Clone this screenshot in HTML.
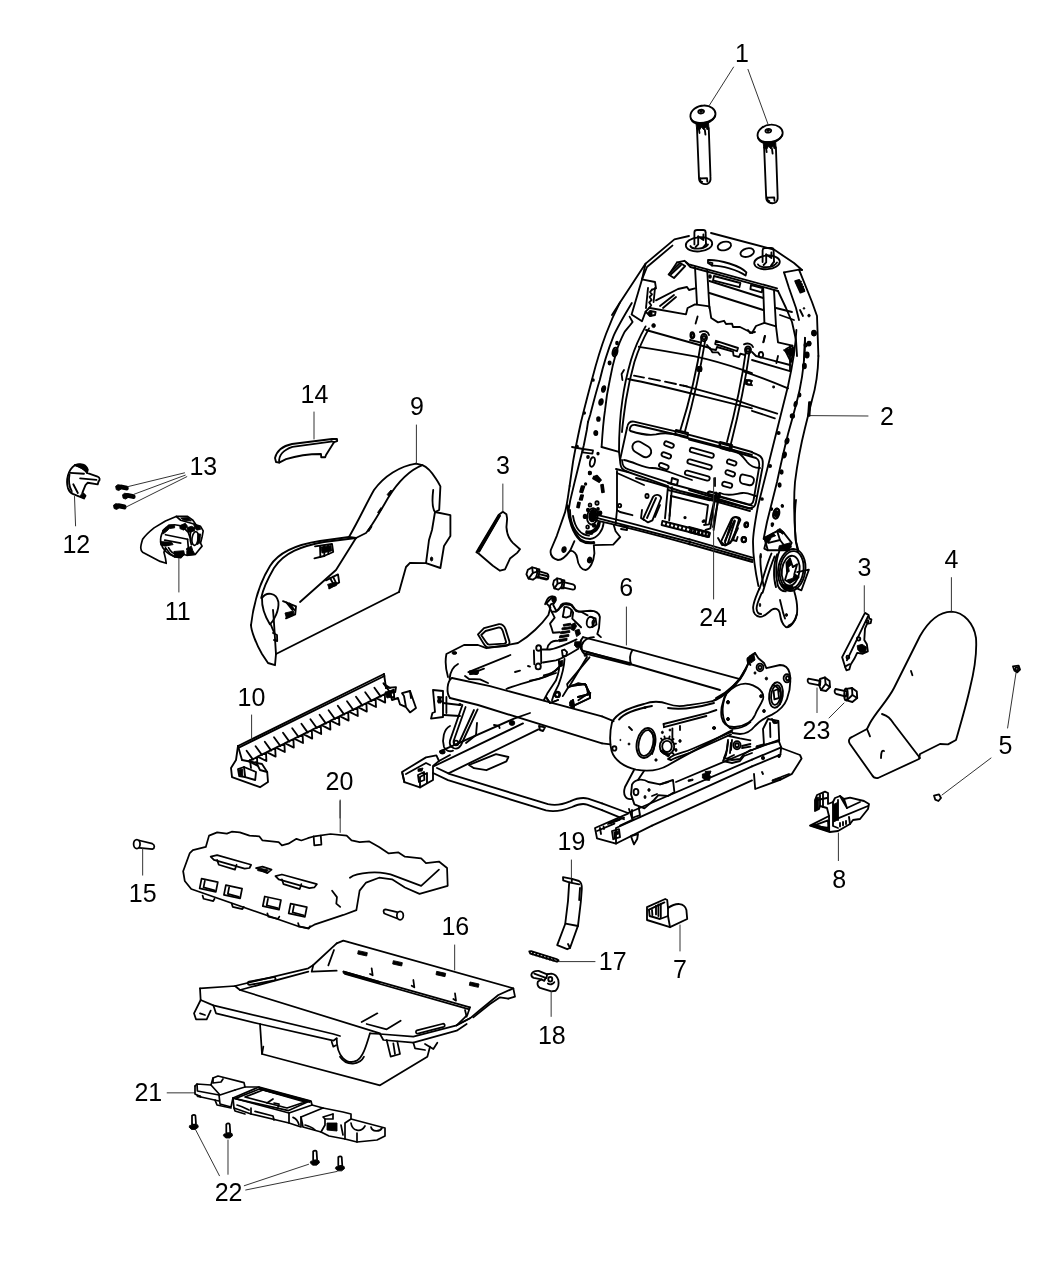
<!DOCTYPE html>
<html><head><meta charset="utf-8"><title>Seat Adjuster Diagram</title>
<style>
html,body{margin:0;padding:0;background:#fff;}
body{width:1050px;height:1275px;overflow:hidden;}
svg{display:block;will-change:transform;}
.l{fill:none;stroke:#000;stroke-linecap:round;stroke-linejoin:round;}
.t{fill:none;stroke:#333;stroke-linecap:round;}
.f{fill:#000;stroke:#000;stroke-linejoin:round;}
.w{fill:#fff;stroke:#000;stroke-linejoin:round;}
text{font-family:"Liberation Sans",Arial,sans-serif;font-size:25px;fill:#000;text-anchor:middle;}
</style></head><body>
<svg width="1050" height="1275" viewBox="0 0 1050 1275">
<rect width="1050" height="1275" fill="#fff"/>

<g transform="translate(670 20) scale(0.156904)">
<g class="l" stroke-width="11.791">
<path d="M 130 615 C 128 578 172 545 215 545 C 258 543 292 570 290 600 C 288 628 255 650 215 656 C 170 660 132 648 130 615 Z"/>
<path d="M 180 585 C 180 576 192 571 203 572 C 215 573 220 580 215 588 C 210 596 195 598 186 594 C 182 592 180 589 180 585 Z"/>
<path d="M 133 628 C 140 650 165 664 200 664 C 240 662 275 640 288 612"/>
<path d="M 172 690 L 185 1010 C 186 1040 215 1050 238 1044 C 256 1038 260 1020 258 1000 L 247 690"/>
<path d="M 192 1010 L 236 1008 L 238 1030"/>
<path d="M 192 1010 C 190 1022 195 1030 205 1032"/>
<path d="M 222 700 L 226 730"/>
<path d="M 185 700 L 188 720"/>
<path d="M 558 737 C 556 700 600 667 643 667 C 686 665 720 692 718 722 C 716 750 683 772 643 778 C 598 782 560 770 558 737 Z"/>
<path d="M 608 707 C 608 698 620 693 631 694 C 643 695 648 702 643 710 C 638 718 623 720 614 716 C 610 714 608 711 608 707 Z"/>
<path d="M 561 750 C 568 772 593 786 628 786 C 668 784 703 762 716 734"/>
<path d="M 600 812 L 613 1132 C 614 1162 643 1172 666 1166 C 684 1160 688 1142 686 1122 L 675 812"/>
<path d="M 620 1132 L 664 1130 L 666 1152"/>
<path d="M 620 1132 C 618 1144 623 1152 633 1154"/>
<path d="M 650 822 L 654 852"/>
<path d="M 613 822 L 616 842"/>
</g>
<g class="t" stroke-width="6.373">
<path d="M405 300 L250 545"/>
<path d="M497 315 L625 665"/>
</g>
<g class="f" stroke-width="5.736">
<path d="M 165 655 L 245 650 L 248 690 L 236 700 L 230 680 L 215 700 L 200 682 L 190 700 L 170 695 Z"/>
<path d="M 190 580 C 190 576 200 575 205 578 C 210 582 204 590 196 590 C 192 590 190 585 190 580 Z"/>
<path d="M 593 777 L 673 772 L 676 812 L 664 822 L 658 802 L 643 822 L 628 804 L 618 822 L 598 817 Z"/>
<path d="M 618 702 C 618 698 628 697 633 700 C 638 704 632 712 624 712 C 620 712 618 707 618 702 Z"/>
</g>
</g>
<g transform="translate(620 100) scale(0.200000)">
<g class="l" stroke-width="9.250">
<path d="M-40 1075 L0 1012 L128 818 L272 697 L345 680"/>
<path d="M110 897 L135 835 L262 728"/>
<path d="M455 665 L770 748 L870 815 L910 850"/>
<path d="M329.3 727.8 A66 34 -5 1 0 460.7 716.2 A66 34 -5 1 0 329.3 727.8 Z"/>
<path d="M352 730 C360 748 420 750 440 722"/>
<path d="M372 722 L372 662 C372 652 378 650 386 650 L416 650 C424 650 428 654 428 662 L430 720"/>
<path d="M391 682 L391 722 L378 735"/>
<path d="M417 672 L417 700 L391 682"/>
<path d="M430 720 L415 738"/>
<path d="M489.2 738.8 A34 20 -15 1 0 554.8 721.2 A34 20 -15 1 0 489.2 738.8 Z"/>
<path d="M603.2 771.8 A34 20 -15 1 0 668.8 754.2 A34 20 -15 1 0 603.2 771.8 Z"/>
<path d="M671.2 817.6 A64 34 -5 1 0 798.8 806.4 A64 34 -5 1 0 671.2 817.6 Z"/>
<path d="M690 822 C700 842 765 842 785 812"/>
<path d="M713 810 L713 752 C713 742 718 740 726 740 L756 740 C764 740 768 744 768 752 L770 808"/>
<path d="M731 772 L731 812 L718 825"/>
<path d="M757 762 L757 790 L731 772"/>
<path d="M770 808 L755 828"/>
<path d="M285 812 L322 804 L345 822 L785 942"/>
<path d="M330 812 L352 835 L790 955"/>
<path d="M285 812 L250 865"/>
<path d="M440 800 C500 798 600 828 632 862 L628 878 C590 850 505 826 462 828 L440 815 Z"/>
<path d="M448 812 L462 816 L460 828"/>
<path d="M243 872 L300 815 L326 830 L270 890 Z"/>
<path d="M255 872 L305 825"/>
<path d="M470 880 L602 915 L597 936 L465 902 Z"/>
<path d="M655 925 L712 940 L709 962 L652 946 Z"/>
<path d="M375 835 L385 1022"/>
<path d="M436 850 L447 1040"/>
<path d="M716 940 L722 1112"/>
<path d="M770 952 L780 1132"/>
<path d="M128 818 L110 897 L175 910 L180 942 L160 948"/>
<path d="M110 897 L58 1072 L110 1106 L128 1058"/>
<path d="M160 948 L150 960 L160 972 L148 985 L158 1000 L146 1012 L156 1026 L146 1040"/>
<path d="M140 940 L130 1040"/>
<path d="M175 940 L168 1010"/>
<path d="M146 1040 L128 1058 L150 1080 L175 1075 L178 1060 L150 1055"/>
<path d="M180 1002 L290 945 L335 935 L345 950 L375 942"/>
<path d="M200 1030 L270 975"/>
<path d="M215 1040 L280 985"/>
<path d="M150 1040 L330 1072 L338 1040 L375 1022 L447 1032 L456 1090 L490 1112 L520 1104 L530 1120 L560 1118 L565 1135 L600 1135 L660 1165 L680 1130 L722 1114 L780 1132 L790 1212 L862 1228"/>
<path d="M447 965 L716 1050"/>
<path d="M447 905 L716 990"/>
<path d="M130 1150 L450 1240 L462 1262 L490 1262 L500 1275"/>
<path d="M405.0 1188.0 A15 18 0 1 0 435.0 1188.0 A15 18 0 1 0 405.0 1188.0 Z"/>
<path d="M413.0 1188.0 A7 9 0 1 0 427.0 1188.0 A7 9 0 1 0 413.0 1188.0 Z"/>
<path d="M625.0 1250.0 A15 18 0 1 0 655.0 1250.0 A15 18 0 1 0 625.0 1250.0 Z"/>
<path d="M633.0 1250.0 A7 9 0 1 0 647.0 1250.0 A7 9 0 1 0 633.0 1250.0 Z"/>
<path d="M352.0 1176.0 A9 15 0 1 0 370.0 1176.0 A9 15 0 1 0 352.0 1176.0 Z"/>
<path d="M400 1160 C420 1150 440 1158 445 1175"/>
<path d="M620 1222 C640 1212 660 1220 665 1235"/>
<path d="M480 1204 L590 1240 L585 1256 L476 1220 Z"/>
<path d="M388 1082 L378 1118"/>
<path d="M724 1180 L716 1212"/>
<path d="M820 862 L895 848 L910 850"/>
<path d="M820 862 L845 940 L880 1040 L895 1100"/>
<path d="M895 848 L960 1010 L985 1080 L992 1280"/>
<path d="M925 1189 L920 1300"/>
<path d="M876 906 L896 900 L922 956 L902 963 Z"/>
<path d="M882 915 L905 908"/>
<path d="M888 928 L910 921"/>
<path d="M894 941 L916 934"/>
<path d="M900 952 L920 947"/>
<path d="M790 955 L830 1040 L860 1110 L880 1200 L885 1280"/>
<path d="M780 1040 L860 1060"/>
<path d="M800 1075 L870 1100"/>
<path d="M830 1245 L862 1228 L868 1275"/>
<path d="M937.0 1218.0 A8 10 0 1 0 953.0 1218.0 A8 10 0 1 0 937.0 1218.0 Z"/>
<path d="M922.0 1225.0 A6 8 0 1 0 934.0 1225.0 A6 8 0 1 0 922.0 1225.0 Z"/>
<path d="M900 1050 L915 1080"/>
</g>
<g class="f" stroke-width="4.500">
<path d="M159.0 1128.0 A9 10 0 1 0 177.0 1128.0 A9 10 0 1 0 159.0 1128.0 Z"/>
<path d="M939.0 1078.0 A6 7 0 1 0 951.0 1078.0 A6 7 0 1 0 939.0 1078.0 Z"/>
<path d="M959.0 1166.0 A11 14 0 1 0 981.0 1166.0 A11 14 0 1 0 959.0 1166.0 Z"/>
<path d="M916.0 1042.0 A4 4 0 1 0 924.0 1042.0 A4 4 0 1 0 916.0 1042.0 Z"/>
<path d="M840 1250 L868 1235 L866 1275 Z"/>
<path d="M880 908 L896 903 L920 955 L904 960 Z"/>
<path d="M140 1060 L160 1055 L160 1080 L145 1078 Z"/>
</g>
</g>
<g transform="translate(540 230) scale(0.200000)">
<g class="l" stroke-width="9.250">
<path d="M400 362 C370 420 345 480 330 520 C300 600 280 670 262 740 C240 820 220 900 205 960 C190 1030 175 1100 165 1160 L148 1280"/>
<path d="M459 365 C420 430 390 480 368 529 C340 600 315 680 299 750 C280 810 265 870 252 921 L240 960"/>
<path d="M448 433 L463 460 C440 490 425 505 421 513 C405 545 392 575 383 605 C370 650 358 700 349 750 C338 800 330 850 325 902 C316 960 312 1020 308 1085"/>
<path d="M528 482 C495 540 470 600 455 650 C435 720 420 790 412 850 C400 930 395 1020 395 1110"/>
<path d="M545 492 C512 550 488 610 472 660 C455 720 440 790 430 850 C420 920 412 980 410 1010"/>
<path d="M420 700 L408 720 L412 750"/>
<path d="M494 584 C600 600 700 618 774 632 C850 648 950 678 1017 701 L1060 716"/>
<path d="M470 728 L520 738 M545 742 L600 753 M625 758 L680 770 M700 775 L735 782"/>
<path d="M440 745 C600 775 800 830 1060 892"/>
<path d="M717 778 C800 800 900 828 968 847 L1060 878"/>
<path d="M808 545 C785 700 740 880 702 1000"/>
<path d="M826 552 C802 700 760 880 724 1010"/>
<path d="M1030 602 C1010 750 970 930 935 1060"/>
<path d="M1048 606 C1028 750 990 930 955 1068"/>
<path d="M790 685 L805 685 L805 705 L790 705 Z"/>
<path d="M1030 750 L1060 755 M1030 770 L1060 776 M1030 750 L1030 770"/>
<path d="M395 1110 L400 1150 C402 1190 410 1200 440 1210 L640 1280"/>
<path d="M410 1150 C412 1180 420 1190 445 1198 L660 1268"/>
<path d="M435 990 C438 965 450 955 470 958 L700 1012 L900 1065 L1060 1110"/>
<path d="M448 1000 C450 980 460 972 478 975 L690 1025"/>
<path d="M435 990 L400 1150"/>
<path d="M452 1005 C500 1020 540 1030 580 1022 C620 1012 660 1015 700 1030 L1060 1125"/>
<path d="M420 1150 C470 1160 520 1190 560 1190 C590 1190 620 1200 660 1215 L760 1250"/>
<path d="M680 1000 L740 1015 L738 1035 L676 1020 Z"/>
<path d="M900 1060 L960 1075 L958 1095 L896 1080 Z"/>
<path d="M475.5 1109.0 L513.5 1132.0 A28 28 0 0 0 542.5 1084.0 L504.5 1061.0 A28 28 0 0 0 475.5 1109.0 Z"/>
<path d="M628.1 1078.3 L654.1 1088.3 A11 11 0 0 0 661.9 1067.7 L635.9 1057.7 A11 11 0 0 0 628.1 1078.3 Z"/>
<path d="M614.2 1132.3 L641.2 1142.3 A11 11 0 0 0 648.8 1121.7 L621.8 1111.7 A11 11 0 0 0 614.2 1132.3 Z"/>
<path d="M602.1 1186.3 L628.1 1196.3 A11 11 0 0 0 635.9 1175.7 L609.9 1165.7 A11 11 0 0 0 602.1 1186.3 Z"/>
<path d="M757.0 1110.6 L855.0 1138.6 A11 11 0 0 0 861.0 1117.4 L763.0 1089.4 A11 11 0 0 0 757.0 1110.6 Z"/>
<path d="M745.0 1168.6 L845.0 1196.6 A11 11 0 0 0 851.0 1175.4 L751.0 1147.4 A11 11 0 0 0 745.0 1168.6 Z"/>
<path d="M732.1 1224.6 L835.1 1252.6 A11 11 0 0 0 840.9 1231.4 L737.9 1203.4 A11 11 0 0 0 732.1 1224.6 Z"/>
<path d="M941.5 1168.4 L968.5 1177.4 A11 11 0 0 0 975.5 1156.6 L948.5 1147.6 A11 11 0 0 0 941.5 1168.4 Z"/>
<path d="M934.4 1222.4 L960.4 1231.4 A11 11 0 0 0 967.6 1210.6 L941.6 1201.6 A11 11 0 0 0 934.4 1222.4 Z"/>
<path d="M875 1240 L875 1280"/>
<path d="M215 1095 L265 1102 L262 1118 L212 1112 Z"/>
<path d="M308 1085 L390 1108"/>
<path d="M160 1085 L215 1095"/>
<path d="M250.4 1156.9 A12 24 15 1 0 273.6 1163.1 A12 24 15 1 0 250.4 1156.9 Z"/>
<path d="M380 1195 L440 1210"/>
<path d="M385 1215 L520 1275"/>
<path d="M363.4 606.9 A12 22 15 1 0 386.6 613.1 A12 22 15 1 0 363.4 606.9 Z"/>
</g>
<g class="f" stroke-width="8.500">
<path d="M380.0 565.0 A5 7 0 1 0 390.0 565.0 A5 7 0 1 0 380.0 565.0 Z"/>
<path d="M369.2 608.4 A6 13 15 1 0 380.8 611.6 A6 13 15 1 0 369.2 608.4 Z"/>
<path d="M342.0 665.0 A6 8 0 1 0 354.0 665.0 A6 8 0 1 0 342.0 665.0 Z"/>
<path d="M260.0 750.0 A5 5 0 1 0 270.0 750.0 A5 5 0 1 0 260.0 750.0 Z"/>
<path d="M310.3 792.9 A8 14 15 1 0 325.7 797.1 A8 14 15 1 0 310.3 792.9 Z"/>
<path d="M296.3 857.7 A9 15 15 1 0 313.7 862.3 A9 15 15 1 0 296.3 857.7 Z"/>
<path d="M285.0 945.0 A7 10 0 1 0 299.0 945.0 A7 10 0 1 0 285.0 945.0 Z"/>
<path d="M273.0 1015.0 A7 10 0 1 0 287.0 1015.0 A7 10 0 1 0 273.0 1015.0 Z"/>
<path d="M218.0 915.0 A4 4 0 1 0 226.0 915.0 A4 4 0 1 0 218.0 915.0 Z"/>
<path d="M181.0 1082.0 A4 4 0 1 0 189.0 1082.0 A4 4 0 1 0 181.0 1082.0 Z"/>
<path d="M235.0 1135.0 A5 6 0 1 0 245.0 1135.0 A5 6 0 1 0 235.0 1135.0 Z"/>
<path d="M286.0 1118.0 A4 5 0 1 0 294.0 1118.0 A4 5 0 1 0 286.0 1118.0 Z"/>
<path d="M243.0 1215.0 A5 7 0 1 0 253.0 1215.0 A5 7 0 1 0 243.0 1215.0 Z"/>
<path d="M270 1232 L300 1250 L295 1260 L265 1242 Z"/>
<path d="M224.0 1270.0 A4 4 0 1 0 232.0 1270.0 A4 4 0 1 0 224.0 1270.0 Z"/>
<path d="M845.0 232.0 A5 7 0 1 0 855.0 232.0 A5 7 0 1 0 845.0 232.0 Z"/>
</g>
</g>
<g transform="translate(690 330) scale(0.200000)">
<g class="l" stroke-width="9.250">
<path d="M642 130 C640 220 625 300 610 350 C595 410 585 450 575 490 C555 570 535 680 525 760 C518 840 520 940 528 1050 L540 1110"/>
<path d="M575 40 C575 120 565 220 548 300 C530 380 510 450 490 520 C470 600 450 690 435 760 C418 830 400 900 385 960 L368 1045"/>
<path d="M532 0 C528 80 510 190 490 280 C470 360 455 420 440 480 C420 560 400 640 385 700 C365 780 350 840 340 880 C325 960 315 1020 315 1060 C315 1130 325 1200 342 1280"/>
<path d="M352 1130 C350 1180 358 1230 368 1280"/>
<path d="M310 150 L500 206"/>
<path d="M270 208 C350 235 420 262 490 292"/>
<path d="M310 378 L436 418"/>
<path d="M310 404 L424 442"/>
<path d="M85 75 L100 95 L130 100 L135 85 L215 108 L218 128 L245 135 L252 118 L275 125"/>
<path d="M0 50 L50 62"/>
<path d="M310 110 L330 130 L500 175"/>
<path d="M344.0 124.0 A11 14 0 1 0 366.0 124.0 A11 14 0 1 0 344.0 124.0 Z"/>
<path d="M284.0 262.0 A11 11 0 1 0 306.0 262.0 A11 11 0 1 0 284.0 262.0 Z"/>
<path d="M8.0 28.0 A7 10 0 1 0 22.0 28.0 A7 10 0 1 0 8.0 28.0 Z"/>
<path d="M42.0 195.0 A8 10 0 1 0 58.0 195.0 A8 10 0 1 0 42.0 195.0 Z"/>
<path d="M375 30 L368 60"/>
<path d="M440 130 L432 165"/>
<path d="M480 110 L520 95 L505 160 Z"/>
<path d="M500 80 L500 200"/>
<path d="M290 0 L300 15 L325 10"/>
<path d="M310 612 L335 622 C362 632 368 650 362 690 L330 860 C325 888 308 895 285 888 L-5 800"/>
<path d="M-5 548 L150 588 L330 640 C345 648 350 660 345 690 L318 850 C315 870 302 876 285 870 L150 832"/>
<path d="M150 566 L152 590 L200 604 L200 582"/>
<path d="M169.0 780.6 L197.0 788.6 A11 11 0 0 0 203.0 767.4 L175.0 759.4 A11 11 0 0 0 169.0 780.6 Z"/>
<path d="M262 722 L305 732 C320 737 322 748 318 760 C314 774 304 778 292 775 L262 768 C250 764 248 752 250 740 C252 728 256 722 262 722 Z"/>
<path d="M95.2 827.6 L122.2 835.6 A10 10 0 0 0 127.8 816.4 L100.8 808.4 A10 10 0 0 0 95.2 827.6 Z"/>
<path d="M150 815 C190 835 230 818 262 815 C290 812 310 825 330 830"/>
<path d="M215 600 C250 610 270 640 285 660 C305 685 330 690 350 690"/>
<path d="M-5 820 L300 905"/>
<path d="M125 835 L95 972 L70 975"/>
<path d="M148 815 L115 985"/>
<path d="M175 1062 L212 945 C218 932 240 935 245 948 L215 1050 L180 1075 Z"/>
<path d="M190 1065 L225 955"/>
<path d="M215 1050 L232 1055 L238 1035"/>
<path d="M140 1040 L160 1075 L180 1075"/>
<path d="M-5 985 L95 1012 L90 1035 L-5 1010"/>
<path d="M10 990 L8 1010 M28 995 L26 1016 M46 1000 L44 1022 M64 1005 L62 1026 M80 1010 L78 1030"/>
<path d="M-5 1046 L312 1138"/>
<path d="M-5 1070 L312 1160"/>
<path d="M-5 1058 L312 1150"/>
<path d="M275.0 972.0 A8 11 0 1 0 291.0 972.0 A8 11 0 1 0 275.0 972.0 Z"/>
<path d="M257.0 1048.0 A11 13 0 1 0 279.0 1048.0 A11 13 0 1 0 257.0 1048.0 Z"/>
<path d="M417.4 914.6 A13 25 15 1 0 442.6 921.4 A13 25 15 1 0 417.4 914.6 Z"/>
</g>
<g class="t" stroke-width="5.000">
<path d="M600 428 L890 430"/>
</g>
<g class="f" stroke-width="8.500">
<path d="M591.0 68.0 A6 8 0 1 0 603.0 68.0 A6 8 0 1 0 591.0 68.0 Z"/>
<path d="M576.0 125.0 A9 13 0 1 0 594.0 125.0 A9 13 0 1 0 576.0 125.0 Z"/>
<path d="M564.0 180.0 A8 12 0 1 0 580.0 180.0 A8 12 0 1 0 564.0 180.0 Z"/>
<path d="M543.0 325.0 A5 8 0 1 0 553.0 325.0 A5 8 0 1 0 543.0 325.0 Z"/>
<path d="M522.2 368.4 A6 12 15 1 0 533.8 371.6 A6 12 15 1 0 522.2 368.4 Z"/>
<path d="M503.0 430.0 A9 9 0 1 0 521.0 430.0 A9 9 0 1 0 503.0 430.0 Z"/>
<path d="M437.0 515.0 A6 6 0 1 0 449.0 515.0 A6 6 0 1 0 437.0 515.0 Z"/>
<path d="M477.3 552.9 A8 13 15 1 0 492.7 557.1 A8 13 15 1 0 477.3 552.9 Z"/>
<path d="M464.3 622.9 A8 13 15 1 0 479.7 627.1 A8 13 15 1 0 464.3 622.9 Z"/>
<path d="M394.0 680.0 A6 6 0 1 0 406.0 680.0 A6 6 0 1 0 394.0 680.0 Z"/>
<path d="M452.0 710.0 A6 9 0 1 0 464.0 710.0 A6 9 0 1 0 452.0 710.0 Z"/>
<path d="M442.0 775.0 A6 9 0 1 0 454.0 775.0 A6 9 0 1 0 442.0 775.0 Z"/>
<path d="M355.0 845.0 A5 5 0 1 0 365.0 845.0 A5 5 0 1 0 355.0 845.0 Z"/>
<path d="M458.0 880.0 A4 5 0 1 0 466.0 880.0 A4 5 0 1 0 458.0 880.0 Z"/>
<path d="M404.0 895.0 A4 4 0 1 0 412.0 895.0 A4 4 0 1 0 404.0 895.0 Z"/>
<path d="M424.2 916.4 A6 13 15 1 0 435.8 919.6 A6 13 15 1 0 424.2 916.4 Z"/>
<path d="M407.0 970.0 A5 5 0 1 0 417.0 970.0 A5 5 0 1 0 407.0 970.0 Z"/>
<path d="M415.0 285.0 A3 3 0 1 0 421.0 285.0 A3 3 0 1 0 415.0 285.0 Z"/>
<path d="M610.0 15.0 A10 12 0 1 0 630.0 15.0 A10 12 0 1 0 610.0 15.0 Z"/>
<path d="M62.0 958.0 A3 3 0 1 0 68.0 958.0 A3 3 0 1 0 62.0 958.0 Z"/>
<path d="M595 360 L602 360 L598 430 L590 430 Z"/>
<path d="M470 100 L520 95 L505 130 Z"/>
</g>
</g>
<g transform="translate(540 430) scale(0.200000)">
<g class="l" stroke-width="9.250">
<path d="M148 280 C140 330 136 370 125 412 L84 529 L54 600 C50 620 55 640 90 650 C110 650 135 625 151 603 C170 605 182 615 186 640 C190 680 210 700 228 700 C250 695 268 660 272 617 L269 576 L366 573 L401 535 L378 506 L369 476"/>
<path d="M151 603 L172 556"/>
<path d="M240 -40 L234 0 L219 76 L201 147 L172 265 L151 353 L143 400"/>
<path d="M137 376 C140 450 165 520 201 553 C225 568 250 568 272 565"/>
<path d="M140 380 C144 450 168 516 204 548 C226 562 250 563 270 560"/>
<path d="M150 400 C150 480 190 545 250 545 C290 540 315 500 318 465"/>
<path d="M165 430 C175 490 205 525 245 528"/>
<path d="M385 205 L385 400 L400 410 L462 426"/>
<path d="M385 400 L378 470"/>
<path d="M405 480 L435 485 L435 500 L405 495"/>
<path d="M390.0 378.0 A8 9 0 1 0 406.0 378.0 A8 9 0 1 0 390.0 378.0 Z"/>
<path d="M236.4 427.5 A26 40 10 1 0 287.6 436.5 A26 40 10 1 0 236.4 427.5 Z"/>
<path d="M248.2 429.6 A14 22 10 1 0 275.8 434.4 A14 22 10 1 0 248.2 429.6 Z"/>
<path d="M272 422 C420 455 600 505 750 548"/>
<path d="M262 448 C420 482 600 530 750 572"/>
<path d="M268 436 L750 560"/>
<path d="M515 445 L565 335 C575 318 602 322 606 340 L562 452 L540 462 Z"/>
<path d="M535 440 L580 340"/>
<path d="M575 435 L600 375"/>
<path d="M905 558 L958 445 C965 430 998 432 1002 450 L952 565 L925 578 Z"/>
<path d="M925 555 L972 452"/>
<path d="M965 545 L990 490"/>
<path d="M640 282 L625 442"/>
<path d="M660 286 L646 452"/>
<path d="M640 300 L850 352"/>
<path d="M655 330 L840 376 L828 470"/>
<path d="M655 330 L648 430"/>
<path d="M880 312 L852 492 L828 500"/>
<path d="M895 318 L868 500"/>
<path d="M612 455 L850 515 L845 535 L608 475 Z"/>
<path d="M632 462 L628 480 M652 467 L648 485 M672 472 L668 490 M692 477 L688 495 M712 482 L708 500 M732 487 L728 505 M752 492 L748 510 M772 497 L768 515 M792 502 L788 520 M812 507 L808 525 M830 512 L826 530"/>
<path d="M527.0 330.0 A8 10 0 1 0 543.0 330.0 A8 10 0 1 0 527.0 330.0 Z"/>
<path d="M1021.0 475.0 A9 11 0 1 0 1039.0 475.0 A9 11 0 1 0 1021.0 475.0 Z"/>
<path d="M1009.0 548.0 A11 13 0 1 0 1031.0 548.0 A11 13 0 1 0 1009.0 548.0 Z"/>
<path d="M847.6 327.7 L887.6 337.7 A10 10 0 0 0 892.4 318.3 L852.4 308.3 A10 10 0 0 0 847.6 327.7 Z"/>
<path d="M640 265 L1060 378"/>
<path d="M480 240 C560 260 640 285 700 305 L1060 395"/>
<path d="M660 240 L690 250 L685 275 L655 268 Z"/>
<path d="M510 400 L505 440 L520 450"/>
<path d="M277.0 365.0 A8 9 0 1 0 293.0 365.0 A8 9 0 1 0 277.0 365.0 Z"/>
<path d="M243.0 375.0 A7 8 0 1 0 257.0 375.0 A7 8 0 1 0 243.0 375.0 Z"/>
<path d="M231.0 485.0 A7 8 0 1 0 245.0 485.0 A7 8 0 1 0 231.0 485.0 Z"/>
</g>
<g class="t" stroke-width="5.000">
<path d="M432 885 L432 1075"/>
<path d="M868 240 L868 845"/>
</g>
<g class="f" stroke-width="8.500">
<path d="M111.3 595.7 A9 13 15 1 0 128.7 600.3 A9 13 15 1 0 111.3 595.7 Z"/>
<path d="M239.3 647.7 A9 13 15 1 0 256.7 652.3 A9 13 15 1 0 239.3 647.7 Z"/>
<path d="M247.3 425.0 A17 28 10 1 0 280.7 431.0 A17 28 10 1 0 247.3 425.0 Z"/>
<path d="M232 505 C255 512 285 495 292 460 L300 462 C295 505 260 525 230 515 Z"/>
<path d="M208 280 L222 282 L212 312 L200 310 Z"/>
<path d="M205 325 L216 327 L210 350 L198 348 Z"/>
<path d="M190 362 L200 364 L195 388 L185 386 Z"/>
<path d="M275 232 L285 228 L305 250 L296 258 Z"/>
<path d="M305 275 L315 273 L320 310 L310 312 Z"/>
<path d="M244.0 215.0 A6 7 0 1 0 256.0 215.0 A6 7 0 1 0 244.0 215.0 Z"/>
<path d="M292.0 415.0 A8 8 0 1 0 308.0 415.0 A8 8 0 1 0 292.0 415.0 Z"/>
<path d="M218.0 432.0 A7 9 0 1 0 232.0 432.0 A7 9 0 1 0 218.0 432.0 Z"/>
<path d="M263.0 478.0 A7 7 0 1 0 277.0 478.0 A7 7 0 1 0 263.0 478.0 Z"/>
<path d="M247.0 515.0 A8 6 0 1 0 263.0 515.0 A8 6 0 1 0 247.0 515.0 Z"/>
<path d="M234.0 400.0 A6 7 0 1 0 246.0 400.0 A6 7 0 1 0 234.0 400.0 Z"/>
<path d="M285.0 395.0 A5 6 0 1 0 295.0 395.0 A5 6 0 1 0 285.0 395.0 Z"/>
<path d="M721.0 438.0 A4 4 0 1 0 729.0 438.0 A4 4 0 1 0 721.0 438.0 Z"/>
<path d="M816.0 455.0 A4 4 0 1 0 824.0 455.0 A4 4 0 1 0 816.0 455.0 Z"/>
<path d="M271.0 15.0 A7 9 0 1 0 285.0 15.0 A7 9 0 1 0 271.0 15.0 Z"/>
<path d="M181.0 82.0 A4 4 0 1 0 189.0 82.0 A4 4 0 1 0 181.0 82.0 Z"/>
</g>
</g>
<g transform="translate(730 500) scale(0.142857)">
<g class="l" stroke-width="12.950">
<path d="M462 0 C450 100 452 200 462 290 L478 350"/>
<path d="M205 620 C185 670 165 710 162 750 C160 790 180 815 210 818 C245 818 270 785 292 768 C315 755 340 760 348 790 C355 830 360 870 392 890 C425 895 455 850 468 800 C475 750 465 690 450 640"/>
<path d="M222 650 C200 700 185 730 186 760 C188 785 200 798 218 798"/>
<path d="M350 700 L372 790 L385 830"/>
<path d="M468 800 C460 840 440 870 410 880"/>
<path d="M290 375 C260 440 235 540 205 625"/>
<path d="M312 395 C280 470 255 560 228 650"/>
<path d="M337.9 476.8 A95 148 8 1 0 526.1 503.2 A95 148 8 1 0 337.9 476.8 Z"/>
<path d="M350.8 478.6 A82 132 8 1 0 513.2 501.4 A82 132 8 1 0 350.8 478.6 Z"/>
<path d="M363.6 486.4 A62 105 8 1 0 486.4 503.6 A62 105 8 1 0 363.6 486.4 Z"/>
<path d="M345 360 C320 420 315 520 335 600 C345 625 365 640 390 640"/>
<path d="M330 380 C305 440 300 540 322 610"/>
<path d="M470 505 L552 488 L500 632 L452 612"/>
<path d="M395 440 L420 410 L440 470 L470 450 L450 520 L480 540 L420 580 L385 560 L400 510 Z"/>
<path d="M240 265 L330 218 L378 232 L432 300 L405 352 L265 352 Z"/>
<path d="M330 218 L350 280 L405 352"/>
<path d="M270 300 L350 280"/>
<path d="M250 300 L240 340 L262 352"/>
<path d="M305.4 90.8 A20 36 12 1 0 344.6 99.2 A20 36 12 1 0 305.4 90.8 Z"/>
<path d="M105.0 175.0 A10 14 0 1 0 125.0 175.0 A10 14 0 1 0 105.0 175.0 Z"/>
<path d="M84.0 278.0 A14 16 0 1 0 112.0 278.0 A14 16 0 1 0 84.0 278.0 Z"/>
<path d="M945 790 L970 805 L975 830 L990 836 L985 862 L960 866 L945 900 L940 980 L958 1010 L965 1060 L930 1076 L890 1070 L870 1112 L845 1152 L835 1186 L815 1192 L805 1166 L785 1100 Z"/>
<path d="M966 815 L818 1122"/>
<path d="M805 1166 L835 1150"/>
<path d="M888.0 972.0 A12 12 0 1 0 912.0 972.0 A12 12 0 1 0 888.0 972.0 Z"/>
<path d="M815.0 1100.0 A10 11 0 1 0 835.0 1100.0 A10 11 0 1 0 815.0 1100.0 Z"/>
<path d="M954.0 850.0 A8 8 0 1 0 970.0 850.0 A8 8 0 1 0 954.0 850.0 Z"/>
</g>
<g class="t" stroke-width="7.000">
<path d="M940 600 L940 785"/>
</g>
<g class="f" stroke-width="6.300">
<path d="M358.0 40.0 A7 9 0 1 0 372.0 40.0 A7 9 0 1 0 358.0 40.0 Z"/>
<path d="M283.0 65.0 A7 8 0 1 0 297.0 65.0 A7 8 0 1 0 283.0 65.0 Z"/>
<path d="M315.2 92.9 A10 20 12 1 0 334.8 97.1 A10 20 12 1 0 315.2 92.9 Z"/>
<path d="M288.0 180.0 A7 7 0 1 0 302.0 180.0 A7 7 0 1 0 288.0 180.0 Z"/>
<path d="M387.0 805.0 A8 10 0 1 0 403.0 805.0 A8 10 0 1 0 387.0 805.0 Z"/>
<path d="M205.0 735.0 A5 12 0 1 0 215.0 735.0 A5 12 0 1 0 205.0 735.0 Z"/>
<path d="M210.0 390.0 A5 18 0 1 0 220.0 390.0 A5 18 0 1 0 210.0 390.0 Z"/>
<path d="M240 265 L300 232 L320 250 L290 262 L270 300 L250 300 Z"/>
<path d="M330 210 L350 200 L380 225 L370 240 Z"/>
<path d="M345 320 L420 300 L430 330 L400 352 L340 345 Z"/>
<path d="M395 440 L420 410 L432 450 L410 470 L415 500 L400 510 Z"/>
<path d="M450 520 L480 540 L420 580 L400 560 L440 548 Z"/>
<path d="M360 590 L440 600 L445 625 L380 630 Z"/>
<path d="M890 1020 L925 1010 L955 1030 L950 1065 L915 1070 L895 1050 Z"/>
</g>
</g>
<g transform="translate(450 430) scale(0.142857)">
<g class="l" stroke-width="12.950">
<path d="M370 572 L395 590 L400 620 L395 680 C398 730 420 770 440 790 L490 835 L470 860 L420 900 L385 975 L350 985 L300 950 L200 865 L185 855 L200 830 L340 595 Z"/>
<path d="M350 600 L205 850"/>
<path d="M545 978 L575 962 L605 968 L612 992 L605 1030 L580 1048 L550 1040 L535 1010 Z"/>
<path d="M575 962 L580 1000 L550 1040"/>
<path d="M580 1000 L612 992"/>
<path d="M608 985 L680 1005 C694 1012 692 1040 680 1042 L604 1024"/>
<path d="M612 972 L626 976 L620 1034 L606 1032"/>
</g>
<g class="t" stroke-width="7.000">
<path d="M370 378 L370 570"/>
</g>
<g class="f" stroke-width="6.300">
<path d="M340 595 L352 600 L205 852 L185 855 L200 830 Z"/>
</g>
</g>
<g transform="translate(840 540) scale(0.200000)">
<g class="l" stroke-width="9.250">
<path d="M557 358 C620 360 670 420 680 490 C685 560 670 660 650 740 C630 830 600 930 580 1000 L540 1022 L500 1020 L400 1070 L395 1095 L190 1190 C175 1192 165 1185 160 1175 L50 1020 C40 1005 45 990 60 985 L135 945 L150 915 C180 860 240 800 270 740 C310 660 360 560 400 480 C440 410 490 360 557 358 Z"/>
<path d="M210 870 C240 880 250 890 270 920 L400 1090"/>
<path d="M135 945 L150 982"/>
<path d="M355 655 L362 676"/>
<path d="M205 1090 C205 1060 210 1050 220 1055"/>
<path d="M21.0 772.0 A9 30 0 1 0 39.0 772.0 A9 30 0 1 0 21.0 772.0 Z"/>
<path d="M32 744 L60 740 L84 758 L86 790 L62 810 L34 802"/>
<path d="M60 740 L62 775 L34 802"/>
<path d="M62 775 L86 790"/>
<path d="M865 632 L893 628 L900 648 L886 662 L872 652 Z"/>
<path d="M877.0 644.0 A7 8 0 1 0 891.0 644.0 A7 8 0 1 0 877.0 644.0 Z"/>
<path d="M470 1278 L495 1272 L505 1290 L492 1305 L476 1298 Z"/>
</g>
<g class="t" stroke-width="5.000">
<path d="M557 188 L557 355"/>
<path d="M880 665 L838 940"/>
<path d="M755 1090 L510 1275"/>
</g>
</g>
<g transform="translate(390 585) scale(0.200000)">
<g class="l" stroke-width="9.250">
<path d="M310 465 L500 506 L1060 657"/>
<path d="M300 565 L440 600 L1060 792"/>
<path d="M310 465 C285 480 280 540 300 565"/>
<path d="M290 460 C278 420 275 380 282 345 L370 300 L440 300 L482 316 L560 305 L640 290 C700 255 760 195 792 150 L802 112 L782 92 L806 66 L826 72 L816 100 L832 130 L870 96 L905 100 L930 130 L960 136 L988 152"/>
<path d="M298 470 C300 440 312 410 340 395"/>
<path d="M392 436 L602 350"/>
<path d="M400 445 L470 418"/>
<path d="M582 520 C640 495 720 480 830 440"/>
<path d="M375 455 L395 470 L450 472 L490 490"/>
<path d="M440 247 L470 216 L545 196 C565 195 572 205 578 222 L597 282 C600 298 590 304 575 305 L492 312 C478 312 472 300 465 288 Z"/>
<path d="M456 250 L478 230 L545 212 C556 212 560 218 564 230 L580 282 C582 290 578 292 570 293 L496 298 C488 298 484 292 480 285 Z"/>
<path d="M825.0 548.0 A11 12 0 1 0 847.0 548.0 A11 12 0 1 0 825.0 548.0 Z"/>
<path d="M780 560 L800 590 L840 575"/>
<path d="M900 505 L975 495 L1000 545 L1000 565 L925 600 L900 590"/>
<path d="M940 560 L1000 545"/>
<path d="M915 575 L920 610 L900 600"/>
<path d="M362 600 L300 778 C292 812 335 835 355 800 L438 622"/>
<path d="M378 610 L318 780 C316 800 338 808 345 790 L420 625"/>
<path d="M319.0 790.0 A11 12 0 1 0 341.0 790.0 A11 12 0 1 0 319.0 790.0 Z"/>
<path d="M300 705 C270 720 258 770 270 810 C278 830 300 835 315 828"/>
<path d="M435 690 L430 750 L380 790"/>
<path d="M215 525 L265 530 L265 660 L205 668 L212 640 L225 635 Z"/>
<path d="M240 560 L262 562 M240 580 L262 582"/>
<path d="M265 590 L350 600"/>
<path d="M270 650 L350 655"/>
<path d="M282 560 L282 640"/>
<path d="M60 935 L180 862 L232 852 L245 880 L215 905 L215 975 L150 1012 L72 986 Z"/>
<path d="M72 986 L62 940"/>
<path d="M80 945 L180 890 L200 900"/>
<path d="M150 1012 L150 960 L185 940 L185 990"/>
<path d="M140 950 L170 935 L172 975 L145 985 Z"/>
<path d="M250 832 L620 668 L700 640"/>
<path d="M222 905 L665 692"/>
<path d="M292 942 L742 722"/>
<path d="M245 880 L300 850"/>
<path d="M235 915 L300 946 L790 1096 C830 1105 870 1095 900 1082 C930 1068 960 1060 990 1068 L1060 1092"/>
<path d="M215 940 L290 976 L780 1127 C830 1138 880 1122 910 1110 C940 1096 960 1090 985 1098 L1060 1126"/>
<path d="M395 900 L530 846 L592 860 L582 882 L482 926 L420 916 Z"/>
<path d="M520 700 L545 705 L548 715"/>
<path d="M745 705 L775 712 L765 730 L750 725 Z"/>
<path d="M690 405 L700 408"/>
<path d="M625 435 L650 428"/>
</g>
<g class="f" stroke-width="4.500">
<path d="M310.0 340.0 A12 7 0 1 0 334.0 340.0 A12 7 0 1 0 310.0 340.0 Z"/>
<path d="M596.0 690.0 A14 12 0 1 0 624.0 690.0 A14 12 0 1 0 596.0 690.0 Z"/>
<path d="M248.0 835.0 A14 10 0 1 0 276.0 835.0 A14 10 0 1 0 248.0 835.0 Z"/>
<path d="M395 430 L445 425 L440 445 L400 448 Z"/>
<path d="M815 60 L830 62 L828 82 L812 80 Z"/>
<path d="M342.0 598.0 A8 5 0 1 0 358.0 598.0 A8 5 0 1 0 342.0 598.0 Z"/>
<path d="M420.0 440.0 A10 8 0 1 0 440.0 440.0 A10 8 0 1 0 420.0 440.0 Z"/>
<path d="M240 565 L255 565 L255 590 L240 590 Z"/>
<path d="M140 920 L165 915 L160 930 L140 932 Z"/>
</g>
</g>
<g transform="translate(540 570) scale(0.200000)">
<g class="l" stroke-width="9.250">
<path d="M215 336 L450 396 L1000 546"/>
<path d="M210 402 L450 470 L900 600"/>
<path d="M215 336 C200 350 195 388 210 402"/>
<path d="M462 400 C450 420 448 450 456 472"/>
<path d="M228 418 L450 474"/>
<path d="M232 410 L452 466"/>
<path d="M310 732 L368 756"/>
<path d="M310 867 L352 872"/>
<path d="M360 762 C380 720 430 692 520 670 C560 655 600 655 640 670 C670 682 700 684 740 676 C800 668 850 662 880 650 C910 635 930 620 945 600 L1000 546 L1040 470 L1038 442 L1052 430"/>
<path d="M360 762 C348 810 348 870 358 905 C372 950 420 985 480 998 C540 1008 600 1000 640 976 L700 942 L940 812 L962 800"/>
<path d="M395 748 C420 715 480 695 560 680"/>
<path d="M640 690 C700 700 780 690 870 665"/>
<path d="M485.0 855.4 A46 76 12 1 0 575.0 874.6 A46 76 12 1 0 485.0 855.4 Z"/>
<path d="M494.8 857.5 A36 64 12 1 0 565.2 872.5 A36 64 12 1 0 494.8 857.5 Z"/>
<path d="M545 800 C575 820 580 880 560 920"/>
<path d="M599.0 882.0 A36 40 0 1 0 671.0 882.0 A36 40 0 1 0 599.0 882.0 Z"/>
<path d="M611.0 882.0 A24 28 0 1 0 659.0 882.0 A24 28 0 1 0 611.0 882.0 Z"/>
<path d="M612 850 L605 842 M625 842 L622 832 M645 842 L648 832 M660 852 L668 845 M670 870 L680 868 M670 895 L680 900 M660 912 L668 920"/>
<path d="M362.0 892.0 A10 11 0 1 0 382.0 892.0 A10 11 0 1 0 362.0 892.0 Z"/>
<path d="M445 785 L460 800"/>
<path d="M618 770 L840 714 L882 700"/>
<path d="M620 786 L832 730"/>
<path d="M618 770 L620 786"/>
<path d="M662 792 L662 862"/>
<path d="M700 780 L700 800"/>
<path d="M650 938 C680 915 720 915 760 895 L960 808"/>
<path d="M655 950 C690 930 730 925 770 905 L955 822"/>
<path d="M650 938 L640 945 L655 950"/>
<path d="M930 622 C905 680 905 760 950 790 C990 800 1030 780 1052 760"/>
<path d="M1040 470 C1020 530 970 600 870 652"/>
<path d="M1025 500 C1000 550 960 600 880 640"/>
<path d="M967.0 876.0 A18 20 0 1 0 1003.0 876.0 A18 20 0 1 0 967.0 876.0 Z"/>
<path d="M976.0 876.0 A9 10 0 1 0 994.0 876.0 A9 10 0 1 0 976.0 876.0 Z"/>
<path d="M945 830 L1000 842 L1052 852"/>
<path d="M940 850 L935 900 L920 940 L960 950 L1000 945 L1020 920 L1052 900"/>
<path d="M960 850 L955 900"/>
<path d="M1010 880 L1052 870"/>
<path d="M470 1000 L425 1085 C412 1125 430 1150 458 1145"/>
<path d="M520 1005 L490 1050"/>
<path d="M460 1072 C480 1040 520 1044 542 1060 L600 1072 L665 1050 L672 1110 L640 1130 L592 1126 L570 1150 L522 1192 L472 1172 L455 1122 Z"/>
<path d="M468.0 1110.0 A12 16 0 1 0 492.0 1110.0 A12 16 0 1 0 468.0 1110.0 Z"/>
<path d="M600 1072 L640 1060"/>
<path d="M560 1130 L585 1120"/>
<path d="M440 1215 L1060 948"/>
<path d="M500 1236 L1060 982"/>
<path d="M400 1278 L470 1246"/>
<path d="M560 1278 L1060 1052"/>
<path d="M680 1060 L1060 900"/>
<path d="M445 1195 L460 1240 L500 1226 L494 1190"/>
<path d="M460 1240 L460 1200"/>
<path d="M310 1167 L440 1215"/>
<path d="M310 1201 L420 1246"/>
<path d="M75.0 624.0 A11 12 0 1 0 97.0 624.0 A11 12 0 1 0 75.0 624.0 Z"/>
<path d="M30 635 L50 665 L90 650"/>
<path d="M150 580 L225 570 L250 620 L250 640 L175 676 L150 665"/>
<path d="M190 635 L250 620"/>
<path d="M165 650 L170 685 L150 676"/>
<path d="M235 435 L150 576"/>
<path d="M0 22 L35 30 C45 35 42 48 32 48 L0 40"/>
<path d="M70 52 L85 42 L105 46 L112 62 L108 85 L92 98 L72 92 L65 72 Z"/>
<path d="M85 42 L88 68 L72 92"/>
<path d="M88 68 L112 62"/>
<path d="M108 58 L165 72 C180 78 178 98 165 98 L106 86"/>
<path d="M112 50 L122 52 L118 92 L108 92"/>
</g>
<g class="f" stroke-width="4.500">
<path d="M440.0 870.0 A5 5 0 1 0 450.0 870.0 A5 5 0 1 0 440.0 870.0 Z"/>
<path d="M399.0 850.0 A3 3 0 1 0 405.0 850.0 A3 3 0 1 0 399.0 850.0 Z"/>
<path d="M574.0 950.0 A6 6 0 1 0 586.0 950.0 A6 6 0 1 0 574.0 950.0 Z"/>
<path d="M607.0 812.0 A5 6 0 1 0 617.0 812.0 A5 6 0 1 0 607.0 812.0 Z"/>
<path d="M866.0 790.0 A6 6 0 1 0 878.0 790.0 A6 6 0 1 0 866.0 790.0 Z"/>
<path d="M933.0 662.0 A7 8 0 1 0 947.0 662.0 A7 8 0 1 0 933.0 662.0 Z"/>
<path d="M934.0 746.0 A6 7 0 1 0 946.0 746.0 A6 7 0 1 0 934.0 746.0 Z"/>
<path d="M645.0 800.0 A5 5 0 1 0 655.0 800.0 A5 5 0 1 0 645.0 800.0 Z"/>
<path d="M694.0 855.0 A6 7 0 1 0 706.0 855.0 A6 7 0 1 0 694.0 855.0 Z"/>
<path d="M675.0 900.0 A5 8 0 1 0 685.0 900.0 A5 8 0 1 0 675.0 900.0 Z"/>
<path d="M517.0 688.0 A8 4 0 1 0 533.0 688.0 A8 4 0 1 0 517.0 688.0 Z"/>
<path d="M539.0 1100.0 A6 7 0 1 0 551.0 1100.0 A6 7 0 1 0 539.0 1100.0 Z"/>
<path d="M520.0 1135.0 A5 8 0 1 0 530.0 1135.0 A5 8 0 1 0 520.0 1135.0 Z"/>
<path d="M825 1008 L855 1005 L850 1020 L828 1022 Z"/>
<path d="M822 1035 L852 1030 L848 1052 L826 1050 Z"/>
<path d="M740 1050 L765 1045 L765 1052 L742 1058 Z"/>
<path d="M150 655 L162 650 L168 690 L155 690 Z"/>
<path d="M600 905 L612 900 L650 925 L640 935 Z"/>
<path d="M1035.0 450.0 A10 14 0 1 0 1055.0 450.0 A10 14 0 1 0 1035.0 450.0 Z"/>
</g>
</g>
<g transform="translate(640 625) scale(0.200000)">
<g class="l" stroke-width="9.250">
<path d="M552 155 L562 148 L575 140 L592 166 L620 190 L632 216 L700 200 C725 200 742 215 748 240 C755 280 750 330 735 370 C720 410 695 430 660 448 C630 460 600 480 575 505 C555 530 530 545 500 545 L462 540"/>
<path d="M575 140 C550 160 540 185 552 200"/>
<path d="M415 385 C420 350 445 325 480 305 C510 290 540 290 565 302 C600 318 622 340 615 370 C605 400 585 420 575 450 C560 485 520 505 475 510 C440 512 415 495 408 460 C403 430 408 405 415 385 Z"/>
<path d="M646.3 345.3 A34 64 8 1 0 713.7 354.7 A34 64 8 1 0 646.3 345.3 Z"/>
<path d="M656.2 346.7 A24 50 8 1 0 703.8 353.3 A24 50 8 1 0 656.2 346.7 Z"/>
<path d="M665 300 C700 310 715 350 700 395"/>
<path d="M668 330 L690 320 L695 365 L672 372 Z"/>
<path d="M583.0 212.0 A17 19 0 1 0 617.0 212.0 A17 19 0 1 0 583.0 212.0 Z"/>
<path d="M592.0 212.0 A8 9 0 1 0 608.0 212.0 A8 9 0 1 0 592.0 212.0 Z"/>
<path d="M718.0 266.0 A17 20 0 1 0 752.0 266.0 A17 20 0 1 0 718.0 266.0 Z"/>
<path d="M730.0 266.0 A8 10 0 1 0 746.0 266.0 A8 10 0 1 0 730.0 266.0 Z"/>
<path d="M640 470 L692 480 L696 580 L620 600 L615 520 Z"/>
<path d="M650 490 L652 560"/>
<path d="M660 470 C665 490 680 495 690 485"/>
<path d="M620 600 L560 625"/>
<path d="M560 625 L692 575 L706 612 L702 648"/>
<path d="M560 673 L706 612"/>
<path d="M560 707 L702 648"/>
<path d="M570 745 L576 820 L700 774 L760 744 L808 668 L800 650 L706 615"/>
<path d="M700 774 L705 760 L745 745"/>
<path d="M610 735 L615 745"/>
<path d="M440 665 L470 650"/>
<path d="M440 585 L430 650 L415 680 L460 690 L500 680 L520 655 L560 640"/>
<path d="M455 590 L450 640"/>
<path d="M510 615 L552 608"/>
<path d="M842 268 C835 275 838 290 848 292 L900 302 L902 280 Z"/>
<path d="M900 270 L925 262 L948 280 L950 310 L930 330 L905 325 L895 300 Z"/>
<path d="M925 262 L928 295 L905 325"/>
<path d="M928 295 L950 310"/>
<path d="M978 320 C970 328 972 342 982 345 L1030 358 L1034 332 Z"/>
</g>
<g class="t" stroke-width="5.000">
<path d="M885 315 L885 438"/>
<path d="M1020 390 L945 465"/>
</g>
<g class="f" stroke-width="4.500">
<path d="M433.0 385.0 A7 8 0 1 0 447.0 385.0 A7 8 0 1 0 433.0 385.0 Z"/>
<path d="M598.0 356.0 A7 8 0 1 0 612.0 356.0 A7 8 0 1 0 598.0 356.0 Z"/>
<path d="M433.0 470.0 A7 8 0 1 0 447.0 470.0 A7 8 0 1 0 433.0 470.0 Z"/>
<path d="M613.0 430.0 A7 8 0 1 0 627.0 430.0 A7 8 0 1 0 613.0 430.0 Z"/>
<path d="M626.0 268.0 A6 7 0 1 0 638.0 268.0 A6 7 0 1 0 626.0 268.0 Z"/>
<path d="M570.0 240.0 A5 6 0 1 0 580.0 240.0 A5 6 0 1 0 570.0 240.0 Z"/>
<path d="M607.0 665.0 A8 9 0 1 0 623.0 665.0 A8 9 0 1 0 607.0 665.0 Z"/>
<path d="M688.0 655.0 A7 8 0 1 0 702.0 655.0 A7 8 0 1 0 688.0 655.0 Z"/>
<path d="M362.0 515.0 A8 7 0 1 0 378.0 515.0 A8 7 0 1 0 362.0 515.0 Z"/>
<path d="M664.0 485.0 A8 8 0 1 0 680.0 485.0 A8 8 0 1 0 664.0 485.0 Z"/>
<path d="M312 745 L345 740 L350 755 L330 775 L312 765 Z"/>
<path d="M550 160 L570 150 L575 175 L555 190 Z"/>
<path d="M660 775 L700 760 L702 768 L662 784 Z"/>
<path d="M580 605 L615 595 L616 605 L582 615 Z"/>
</g>
</g>
<g transform="translate(540 740) scale(0.200000)">
<g class="l" stroke-width="9.250">
<path d="M440 368 L275 440 L285 492 L380 518 L396 510 L560 428"/>
<path d="M500 386 L380 440 L380 518"/>
<path d="M285 455 L372 418"/>
<path d="M300 440 L305 470"/>
<path d="M318 432 L320 445"/>
<path d="M360 456 L395 446 L400 486 L366 496 Z"/>
<path d="M372 462 L374 490"/>
<path d="M455 480 L490 470 L486 495 L470 522 L460 496 Z"/>
<path d="M340 420 L420 388"/>
<path d="M115 686 L160 694 L195 705 C208 712 210 725 209 745 L204 810 L190 928 L150 1040 L136 1046 L86 1026 L126 920 L140 805 L146 712 L116 702 Z"/>
<path d="M146 712 L196 722"/>
<path d="M128 918 L190 930"/>
<path d="M160 694 L158 712"/>
<path d="M150 1040 L140 1020"/>
<path d="M200 740 L196 800"/>
<path d="M535 836 L626 795 L636 800 L640 840 C680 812 722 812 732 850 L736 895 L650 936 L535 900 Z"/>
<path d="M545 848 L622 812"/>
<path d="M580 828 L580 872"/>
<path d="M592 822 L592 880"/>
<path d="M604 818 L604 886"/>
<path d="M545 848 L548 880 L600 895 L640 880 L640 840"/>
<path d="M640 880 L650 936"/>
<path d="M560 850 L562 875"/>
</g>
<g class="t" stroke-width="5.000">
<path d="M157 600 L157 690"/>
<path d="M90 1108 L275 1108"/>
<path d="M700 925 L700 1055"/>
</g>
<g class="f" stroke-width="4.500">
<path d="M345 412 L400 392 L402 400 L348 420 Z"/>
<path d="M372 462 L392 456 L394 470 L374 476 Z"/>
</g>
</g>
<g transform="translate(530 590) scale(0.086290)">
<g class="l" stroke-width="21.439">
<path d="M175 165 L200 110 C215 80 260 65 288 80 C305 95 300 130 280 150 L240 166 L226 200 L250 250 L286 320 L232 390 L250 440 L266 495 L345 490"/>
<path d="M250 250 L300 252 L330 230 L360 172 C380 150 450 145 482 170 L520 222 L560 250 L700 240 C760 240 800 270 810 312 L800 440 L780 510 L822 546"/>
<path d="M400 200 C420 190 460 200 480 230 L500 262 L490 332 L560 400 L592 432"/>
<path d="M400 200 L380 310 L420 320 L470 300 L480 230"/>
<path d="M658.6 364.7 A42 62 10 1 0 741.4 379.3 A42 62 10 1 0 658.6 364.7 Z"/>
<path d="M700 312 L760 330 L770 400 L720 430"/>
<path d="M735 350 C720 360 718 395 732 410"/>
<path d="M740 546 C690 545 610 580 600 640 C595 690 610 730 640 740"/>
<path d="M130 690 L230 690 C300 680 400 640 540 572"/>
<path d="M150 840 L300 815 C360 800 430 760 560 680"/>
<path d="M72.0 672.0 A28 32 0 1 0 128.0 672.0 A28 32 0 1 0 72.0 672.0 Z"/>
<path d="M65.0 886.0 A30 34 0 1 0 125.0 886.0 A30 34 0 1 0 65.0 886.0 Z"/>
<path d="M45 700 L50 860"/>
<path d="M128 700 L130 850"/>
<path d="M200 680 C210 620 260 580 320 590"/>
<path d="M0 1050 C100 1040 250 1000 350 880"/>
<path d="M160 990 C230 975 300 940 335 900"/>
<path d="M335 820 C350 900 320 1000 300 1050 L200 1200 L160 1278"/>
<path d="M400 800 C395 900 360 1020 330 1100 L280 1200 L255 1278"/>
<path d="M370 700 L400 690 L430 720 L420 760 L380 770 Z"/>
<path d="M690 780 L430 1090 L440 1132 L560 1080 L650 1100 L672 1200 L700 1192"/>
<path d="M440 1132 L380 1230"/>
<path d="M672 1200 L560 1278"/>
<path d="M292.0 1210.0 A28 32 0 1 0 348.0 1210.0 A28 32 0 1 0 292.0 1210.0 Z"/>
</g>
<g class="f" stroke-width="10.430">
<path d="M385 400 L470 385 L478 405 L390 420 Z"/>
<path d="M370 440 L470 425 L475 448 L372 462 Z"/>
<path d="M355 485 L460 470 L462 492 L355 508 Z"/>
<path d="M345 530 L450 515 L450 538 L340 555 Z"/>
<path d="M330 575 L430 560 L428 585 L335 600 Z"/>
<path d="M480 400 L520 380 L540 420 L510 470 L480 460 Z"/>
<path d="M520 470 L570 455 L585 510 L540 540 Z"/>
<path d="M520 600 L590 600 L600 660 L540 670 L515 640 Z"/>
<path d="M250 70 L290 80 L300 120 L280 150 L255 130 Z"/>
<path d="M330 830 L380 815 L378 880 L345 890 Z"/>
<path d="M625 735 L660 735 L662 765 L630 768 Z"/>
</g>
</g>
<g transform="translate(780 740) scale(0.200000)">
<g class="l" stroke-width="9.250">
<path d="M150 428 L250 460 L290 455 L350 420 L365 400 L400 395 L440 345 L445 320 L420 305 L350 288 L320 295 L300 280 L275 290 L265 310 L240 320 L240 265 L225 258 L185 275 L175 300 L175 355 L195 345 L200 330 L235 340 L245 380 Z"/>
<path d="M245 380 L246 456"/>
<path d="M265 310 L265 430 L290 440"/>
<path d="M290 300 L290 400"/>
<path d="M300 280 L335 340 L320 295"/>
<path d="M290 392 L440 330"/>
<path d="M350 420 L345 385"/>
<path d="M168 428 L240 402 L242 440 Z"/>
<path d="M300 415 L300 432 M315 410 L315 426 M330 404 L330 420"/>
<path d="M200 275 L200 330"/>
<path d="M215 268 L215 335"/>
<path d="M185 300 L235 290"/>
<path d="M335 340 L400 310"/>
</g>
<g class="t" stroke-width="5.000">
<path d="M292 465 L292 603"/>
</g>
<g class="f" stroke-width="4.500">
<path d="M178 290 L192 285 L192 345 L178 352 Z"/>
<path d="M268 322 L288 312 L288 400 L268 410 Z"/>
<path d="M150 428 L175 420 L240 445 L250 460 Z"/>
</g>
</g>
<g transform="translate(240 370) scale(0.200000)">
<g class="l" stroke-width="9.250">
<path d="M180 460 L175 440 C185 400 212 380 260 370 L460 345 L485 345 L486 356 L470 361 L430 425 L426 436 L406 436 L405 420 C350 420 280 430 230 446 L196 463 Z"/>
<path d="M196 463 C192 430 215 400 262 384 L455 358"/>
<path d="M470 361 L456 356"/>
<path d="M880 468 C800 480 720 530 670 600 C630 670 600 740 545 835"/>
<path d="M912 476 C850 500 790 560 740 640 C700 710 660 780 630 815 L580 840"/>
<path d="M880 468 L912 476 C950 490 970 530 990 560 L1002 582 L996 700 L975 710"/>
<path d="M966 600 C960 650 960 690 975 710"/>
<path d="M975 710 L1052 726 L1052 830 L1020 880 L1002 990 L930 966 L945 850 L960 800 Z"/>
<path d="M930 966 L850 964 L830 985 L795 1110"/>
<path d="M545 835 L400 855 C300 870 200 900 150 980 C100 1060 70 1150 55 1276"/>
<path d="M580 840 L420 860 C310 880 220 912 170 990 C135 1050 112 1110 106 1140"/>
<path d="M545 835 L580 840 L480 1000 L300 1160"/>
<path d="M375 882 L460 870 L466 910 L420 930 L372 942"/>
<path d="M400 880 L402 935 M420 878 L422 930 M440 875 L442 920"/>
<path d="M430 1052 L490 1022 L496 1062 L446 1092"/>
<path d="M450 1040 L470 1075 M465 1033 L482 1068"/>
<path d="M215 1156 L280 1182 L276 1222 L230 1242"/>
<path d="M232 1162 L262 1200 M248 1168 L272 1200"/>
<path d="M110 1140 C130 1108 182 1110 192 1160 C196 1200 172 1250 150 1272 C130 1240 108 1190 110 1140 Z"/>
</g>
<g class="t" stroke-width="5.000">
<path d="M370 210 L370 345"/>
<path d="M882 275 L882 465"/>
</g>
<g class="f" stroke-width="4.500">
<path d="M736 622 L755 600 L760 606 L742 630 Z"/>
<path d="M688 712 L705 688 L710 694 L694 718 Z"/>
<path d="M638 802 L655 778 L660 784 L644 808 Z"/>
<path d="M952.0 945.0 A6 10 0 1 0 964.0 945.0 A6 10 0 1 0 952.0 945.0 Z"/>
<path d="M405 885 L455 878 L458 905 L410 915 Z"/>
<path d="M438 1072 L480 1060 L482 1078 L445 1090 Z"/>
<path d="M225 1215 L268 1205 L270 1225 L232 1240 Z"/>
</g>
</g>
<g transform="translate(230 560) scale(0.200000)">
<g class="l" stroke-width="9.250">
<path d="M105 325 C105 350 130 420 160 470 L190 515 L225 526 L230 470"/>
<path d="M215 250 C220 300 225 400 230 470"/>
<path d="M230 470 L845 160"/>
<path d="M215 365 L235 375 L236 405 L220 400"/>
<path d="M205 325 C210 340 218 355 222 365"/>
<path d="M40 930 L770 570"/>
<path d="M44 938 L772 580"/>
<path d="M770 570 L780 640"/>
<path d="M40 930 L60 1000"/>
<path d="M40 930 L30 1000 L5 1040 L10 1086 L150 1136 L190 1110 L186 1060 L160 1020 L60 1000"/>
<path d="M40 1046 L70 1035 L76 1086 L46 1080 Z"/>
<path d="M70 1035 L130 1060 L126 1100 L76 1086"/>
<path d="M100 1000 L105 1040"/>
<path d="M130 1010 L150 1050 L186 1060"/>
<path d="M780 640 L830 636 L826 660 L800 666 L810 700 L840 690 L850 722 L880 736 L870 680 L860 666 L900 655 L930 740 L900 762 L880 736"/>
<path d="M900 655 L905 690"/>
<path d="M770 620 L800 640"/>
<path d="M83 954 L115 998"/>
<path d="M93 1006 L135 986 L137 1028 L93 1006"/>
<path d="M128 931 L160 975"/>
<path d="M138 983 L180 963 L182 1005 L138 983"/>
<path d="M174 909 L206 953"/>
<path d="M184 961 L226 941 L228 983 L184 961"/>
<path d="M220 886 L252 930"/>
<path d="M230 938 L272 918 L274 960 L230 938"/>
<path d="M265 864 L297 908"/>
<path d="M275 916 L317 896 L319 938 L275 916"/>
<path d="M311 841 L343 885"/>
<path d="M321 893 L363 873 L365 915 L321 893"/>
<path d="M357 819 L389 863"/>
<path d="M367 871 L409 851 L411 893 L367 871"/>
<path d="M402 796 L434 840"/>
<path d="M412 848 L454 828 L456 870 L412 848"/>
<path d="M448 774 L480 818"/>
<path d="M458 826 L500 806 L502 848 L458 826"/>
<path d="M493 751 L525 795"/>
<path d="M503 803 L545 783 L547 825 L503 803"/>
<path d="M539 729 L571 773"/>
<path d="M549 781 L591 761 L593 803 L549 781"/>
<path d="M585 706 L617 750"/>
<path d="M595 758 L637 738 L639 780 L595 758"/>
<path d="M630 684 L662 728"/>
<path d="M640 736 L682 716 L684 758 L640 736"/>
<path d="M676 661 L708 705"/>
<path d="M686 713 L728 693 L730 735 L686 713"/>
<path d="M722 639 L754 683"/>
<path d="M732 691 L774 671 L776 713 L732 691"/>
<path d="M767 616 L799 660"/>
<path d="M777 668 L819 648 L821 690 L777 668"/>
</g>
<g class="t" stroke-width="5.000">
<path d="M108 775 L108 895"/>
<path d="M550 1205 L550 1290"/>
</g>
<g class="f" stroke-width="4.500">
<path d="M775 660 L805 655 L808 685 L785 690 Z"/>
<path d="M45 1050 L62 1045 L64 1080 L48 1078 Z"/>
</g>
</g>
<g transform="translate(55 450) scale(0.152381)">
<g class="l" stroke-width="12.141">
<path d="M85 250 C70 200 85 130 130 100 C170 85 205 95 215 130 L210 150 L280 175 C296 180 296 200 286 206 L280 226 L215 215 L200 230 L180 280 L200 300 L190 318 L120 290 C100 280 90 265 85 250 Z"/>
<path d="M100 150 L190 156"/>
<path d="M165 186 L272 196"/>
<path d="M120 225 L150 282"/>
<path d="M95 160 C88 200 92 240 110 270"/>
<path d="M130 100 C160 110 190 120 210 150"/>
<path d="M432 232 l40 8 c8 3 8 18 0 20 l-42 -8"/>
<path d="M477 288 l40 8 c8 3 8 18 0 20 l-42 -8"/>
<path d="M418 356 l40 8 c8 3 8 18 0 20 l-42 -8"/>
</g>
<g class="t" stroke-width="6.562">
<path d="M128 305 L135 498"/>
<path d="M480 240 L850 150"/>
<path d="M520 290 L855 165"/>
<path d="M465 375 L865 175"/>
<path d="M813 700 L813 932"/>
</g>
<g class="f" stroke-width="5.906">
<path d="M128 100 C160 86 200 92 214 128 L208 146 C190 125 160 112 128 100 Z"/>
<path d="M175 285 L200 300 L190 318 L165 305 Z"/>
<path d="M398 238 l14 -10 l16 2 l8 12 l-4 16 l-14 8 l-16 -6 Z"/>
<path d="M434 236 l40 8 l-2 14 l-40 -8 Z"/>
<path d="M443 294 l14 -10 l16 2 l8 12 l-4 16 l-14 8 l-16 -6 Z"/>
<path d="M479 292 l40 8 l-2 14 l-40 -8 Z"/>
<path d="M384 362 l14 -10 l16 2 l8 12 l-4 16 l-14 8 l-16 -6 Z"/>
<path d="M420 360 l40 8 l-2 14 l-40 -8 Z"/>
</g>
</g>
<g transform="translate(135 505) scale(0.076190)">
<g class="l" stroke-width="22.312">
<path d="M410 765 L330 740 L100 620 C70 590 65 560 100 450 C140 390 200 340 250 300 L400 210 L540 150 L690 150 L760 200 L800 260 L860 280 L895 340 L880 420 L860 500 L880 540 L830 600 L790 650 L680 660 L640 650 L600 690 L520 680 L460 640 L400 560 L380 620 L400 700 Z"/>
<path d="M540 150 L600 200 L740 240 L800 260"/>
<path d="M340 500 C320 400 380 290 470 265 C540 250 600 270 640 300"/>
<path d="M340 500 C360 580 420 640 520 680"/>
<path d="M400 390 L690 450"/>
<path d="M390 460 L600 500"/>
<path d="M440 560 C470 620 520 650 560 650"/>
<path d="M748.4 434.2 A42 90 8 1 0 831.6 445.8 A42 90 8 1 0 748.4 434.2 Z"/>
<path d="M740 330 C720 380 720 460 740 520"/>
<path d="M640 300 L700 360 L720 420"/>
<path d="M690 450 L700 560 L680 580"/>
</g>
<g class="f" stroke-width="11.812">
<path d="M440 260 L520 270 L520 300 L450 310 L420 340 L400 320 Z"/>
<path d="M590 270 L660 240 L690 280 L640 330 L590 310 Z"/>
<path d="M680 300 L740 280 L790 300 L780 340 L700 360 Z"/>
<path d="M330 480 L480 490 L500 520 L400 540 L340 530 Z"/>
<path d="M510 610 L640 600 L650 650 L600 690 L520 680 Z"/>
<path d="M680 600 L700 560 L740 540 L760 600 L790 650 L680 660 Z"/>
<path d="M770 260 L850 280 L860 320 L810 330 L790 300 Z"/>
<path d="M825 380 L860 380 L850 500 L815 520 Z"/>
<path d="M360 330 L400 300 L420 340 L370 380 Z"/>
<path d="M600 170 L700 165 L740 210 L640 200 Z"/>
</g>
</g>
<g transform="translate(180 900) scale(0.333333)">
<g class="l" stroke-width="5.250">
<path d="M470 130 L490 122 L1000 265 L1005 290 L985 296"/>
<path d="M470 130 L400 195 L395 215 L470 212"/>
<path d="M462 150 L445 196"/>
<path d="M1000 265 L955 285 L900 330 L870 355 L830 376"/>
<path d="M985 296 L960 292 L930 312 L880 352"/>
<path d="M60 265 L165 258 L180 270 L385 215"/>
<path d="M165 258 L385 205 L400 195"/>
<path d="M60 265 L62 300 L100 316 L460 402 L480 408"/>
<path d="M100 316 L108 340 L240 372 L460 422 L470 415"/>
<path d="M180 270 L600 400"/>
<path d="M570 400 L600 402 L700 410 L830 376 L870 355"/>
<path d="M600 402 L610 420 L700 428 L830 392 L860 372"/>
<path d="M490 215 L870 322"/>
<path d="M495 222 L868 328"/>
<path d="M870 322 L862 345 L830 376"/>
<path d="M208.9 254.9 L282.9 240.9 A5 5 0 0 0 281.1 231.1 L207.1 245.1 A5 5 0 0 0 208.9 254.9 Z"/>
<path d="M713.2 400.8 L791.2 380.8 A5 5 0 0 0 788.8 371.2 L710.8 391.2 A5 5 0 0 0 713.2 400.8 Z"/>
<path d="M575 205 L578 226 L570 222"/>
<path d="M700 240 L703 262 L695 257"/>
<path d="M825 280 L828 302 L820 297"/>
<path d="M855 330 L860 350"/>
<path d="M545 366 L592 340"/>
<path d="M560 372 L620 388 L662 362"/>
<path d="M240 372 L246 462 L600 556 L742 470 L750 440"/>
<path d="M246 462 L250 440"/>
<path d="M470 415 C470 470 500 496 530 482 C550 472 560 432 570 400"/>
<path d="M480 470 C500 500 540 495 552 470"/>
<path d="M455 425 L460 440 L468 436"/>
<path d="M62 300 L42 340 L48 358 L80 358 L92 332"/>
<path d="M60 340 L75 345"/>
<path d="M620 420 L632 470 L660 462 L652 425"/>
<path d="M640 430 L645 462"/>
<path d="M735 432 L760 447 L772 428"/>
<path d="M700 428 L705 445 L735 450"/>
</g>
<g class="t" stroke-width="3.000">
<path d="M824 135 L824 210"/>
</g>
<g class="f" stroke-width="2.700">
<path d="M535 152 L562 158 L560 168 L533 162 Z"/>
<path d="M640 182 L667 188 L665 198 L638 192 Z"/>
<path d="M770 214 L797 220 L795 230 L768 224 Z"/>
<path d="M870 246 L897 252 L895 262 L868 256 Z"/>
<path d="M490 213 L600 245 L598 250 L490 220 Z"/>
</g>
</g>
<g transform="translate(500 930) scale(0.142857)">
<g class="l" stroke-width="12.950">
<path d="M205 150 L212 166 L398 222 L410 212 L396 204 L218 148 Z"/>
<path d="M232 156 L228 170 M256 163 L252 178 M280 170 L276 185 M304 178 L300 192 M328 185 L324 200 M352 192 L348 207 M376 200 L372 214"/>
<path d="M220 310 C225 295 245 285 270 286 L330 310 L360 305 C385 308 400 325 408 350 C414 380 405 410 390 425 L360 430 L280 405 C262 395 260 375 266 360 L290 346 L236 335 C225 330 218 322 220 310 Z"/>
<path d="M240 305 L320 335 L310 356 L290 346"/>
<path d="M330 310 L325 336"/>
<path d="M338.0 345.0 A14 16 0 1 0 366.0 345.0 A14 16 0 1 0 338.0 345.0 Z"/>
<path d="M335 375 C350 386 370 380 380 365"/>
</g>
<g class="t" stroke-width="7.000">
<path d="M358 430 L358 605"/>
</g>
</g>
<g transform="translate(120 800) scale(0.323810)">
<g class="l" stroke-width="5.404">
<path d="M215 165 L225 155 L265 145 L275 110 L300 100 L330 104 L345 98 L370 100 L400 110 L430 112 L440 125 L490 130 L500 140 L520 135 L545 120 L560 125 L580 118 L600 112 L650 105 L700 110 L715 125 L740 130 L770 128 L800 145 L830 165 L860 162 L880 175 L930 180 L945 195 L985 190 L1010 210 L1012 265 L925 290 L880 270 L840 245 L800 240 L760 255 L740 280 L730 340 L690 355 L600 385 L580 396 L550 390 L220 275 L200 250 L195 220 Z"/>
<path d="M710 240 C730 225 800 215 850 235 L930 265 L985 215"/>
<path d="M655 280 L670 300 L668 320 L680 330"/>
<path d="M598 112 L600 140 L622 138 L620 110"/>
<path d="M280 175 L300 170 L405 200 L400 210 L385 212 L290 185 Z"/>
<path d="M300 185 L305 200 L355 215 L360 200"/>
<path d="M420 210 L440 206 L468 215 L455 226 Z"/>
<path d="M480 235 L500 230 L608 260 L600 270 L585 272 L490 245 Z"/>
<path d="M500 245 L505 260 L555 275 L560 260"/>
<path d="M252 243 l50 10.8 l-6 30 l-50 -10.8 Z"/>
<path d="M327 263 l50 10.8 l-6 30 l-50 -10.8 Z"/>
<path d="M447 298 l50 10.8 l-6 30 l-50 -10.8 Z"/>
<path d="M527 320 l50 10.8 l-6 30 l-50 -10.8 Z"/>
<path d="M262 250 L258 270 L292 279"/>
<path d="M337 270 L333 290 L367 299"/>
<path d="M457 305 L453 325 L487 334"/>
<path d="M537 327 L533 347 L567 356"/>
<path d="M255 295 L258 305 L288 312 L292 305"/>
<path d="M345 320 L348 330 L378 337 L382 330"/>
<path d="M455 350 L458 360 L488 367 L492 360"/>
<path d="M550 380 L553 390 L583 397 L587 390"/>
<path d="M42.0 136.0 A10 14 0 1 0 62.0 136.0 A10 14 0 1 0 42.0 136.0 Z"/>
<path d="M60 125 L100 135 C108 138 108 150 100 152 L60 148"/>
<path d="M855.0 357.0 A10 13 0 1 0 875.0 357.0 A10 13 0 1 0 855.0 357.0 Z"/>
<path d="M856 346 L820 338 C812 338 812 350 820 352 L856 366"/>
</g>
<g class="t" stroke-width="3.088">
<path d="M70 150 L70 232"/>
<path d="M680 0 L680 100"/>
</g>
<g class="f" stroke-width="2.779">
<path d="M428 210 L458 216 L452 224 L425 218 Z"/>
</g>
</g>
<g transform="translate(120 1060) scale(0.285714)">
<g class="l" stroke-width="6.125">
<path d="M252 195 c4 -4 10 -4 12 0 l2 30 l-14 2 Z"/>
<path d="M372 225 c4 -4 10 -4 12 0 l2 30 l-14 2 Z"/>
<path d="M676 320 c4 -4 10 -4 12 0 l2 30 l-14 2 Z"/>
<path d="M764 340 c4 -4 10 -4 12 0 l2 30 l-14 2 Z"/>
</g>
<g class="t" stroke-width="3.500">
<path d="M165 115 L262 115"/>
<path d="M348 405 L265 245"/>
<path d="M378 400 L378 280"/>
<path d="M435 440 L660 365"/>
<path d="M440 455 L760 390"/>
</g>
<g class="f" stroke-width="3.150">
<path d="M244 229 l28 -2 l2 8 l-10 8 l-14 0 l-8 -8 Z"/>
<path d="M364 259 l28 -2 l2 8 l-10 8 l-14 0 l-8 -8 Z"/>
<path d="M668 354 l28 -2 l2 8 l-10 8 l-14 0 l-8 -8 Z"/>
<path d="M756 374 l28 -2 l2 8 l-10 8 l-14 0 l-8 -8 Z"/>
</g>
</g>
<g transform="translate(185 1065) scale(0.200000)">
<g class="l" stroke-width="8.500">
<path d="M50 105 L60 95 L130 100 L140 65 L165 55 L295 88 L300 110 L250 125"/>
<path d="M50 105 L50 145 L80 160 L170 180"/>
<path d="M140 65 L140 90 L180 85 L190 70"/>
<path d="M130 100 L175 150 L250 125"/>
<path d="M60 95 L62 130 L170 150"/>
<path d="M240 165 L370 110 L630 180 L635 200 L520 240 Z"/>
<path d="M250 168 L372 120 L615 184 L518 228 Z"/>
<path d="M300 160 L390 125 L600 185 L510 215 Z"/>
<path d="M440 170 L410 190"/>
<path d="M445 190 L470 196 L465 210"/>
<path d="M300 110 L370 110"/>
<path d="M170 150 L175 195 L230 210 L240 165"/>
<path d="M240 165 L245 215 L330 245 L330 215"/>
<path d="M330 245 L520 290 L520 240"/>
<path d="M520 290 L580 310 L580 260"/>
<path d="M260 200 C280 205 300 215 320 225"/>
<path d="M350 232 L440 255 L445 275"/>
<path d="M540 262 C555 268 565 280 570 300"/>
<path d="M150 175 L160 200 L230 215"/>
<path d="M245 215 L250 230 L300 245"/>
<path d="M580 260 L690 215 L790 235 L830 245 L830 270 L800 290 L800 370"/>
<path d="M580 260 L590 310 L680 335 L700 300 L700 270 L690 260 L740 245"/>
<path d="M635 200 L690 215"/>
<path d="M600 300 C620 305 640 315 650 325"/>
<path d="M740 245 L740 270 L700 270"/>
<path d="M830 270 L1000 315 L1000 355 L960 375 L860 385 L800 370 L720 355 L680 335"/>
<path d="M830 290 C835 330 880 340 900 305"/>
<path d="M930 310 C935 335 975 335 985 315"/>
<path d="M860 385 L860 340"/>
<path d="M780 300 L790 350"/>
</g>
<g class="f" stroke-width="4.500">
<path d="M710 290 L760 290 L760 330 L710 325 Z"/>
<path d="M372 112 L628 180 L625 188 L370 120 Z"/>
<path d="M60 150 L80 155 L80 162 L60 158 Z"/>
</g>
</g>
<text x="742" y="61.5">1</text>
<text x="887" y="424.5">2</text>
<text x="503" y="473.6">3</text>
<text x="864.4" y="576.4">3</text>
<text x="951.5" y="568">4</text>
<text x="1005.5" y="754">5</text>
<text x="626.2" y="596">6</text>
<text x="680" y="978">7</text>
<text x="839.3" y="887.6">8</text>
<text x="417" y="415.3">9</text>
<text x="251.5" y="705.6">10</text>
<text x="177.8" y="620">11</text>
<text x="76.3" y="553.3">12</text>
<text x="203.3" y="475.2">13</text>
<text x="314.5" y="402.5">14</text>
<text x="142.7" y="902">15</text>
<text x="455.3" y="935">16</text>
<text x="612.7" y="970">17</text>
<text x="551.8" y="1043.6">18</text>
<text x="571.5" y="850">19</text>
<text x="339.5" y="790">20</text>
<text x="148.3" y="1101.4">21</text>
<text x="228.6" y="1200.6">22</text>
<text x="816.5" y="739.4">23</text>
<text x="713.2" y="625.6">24</text>
</svg></body></html>
